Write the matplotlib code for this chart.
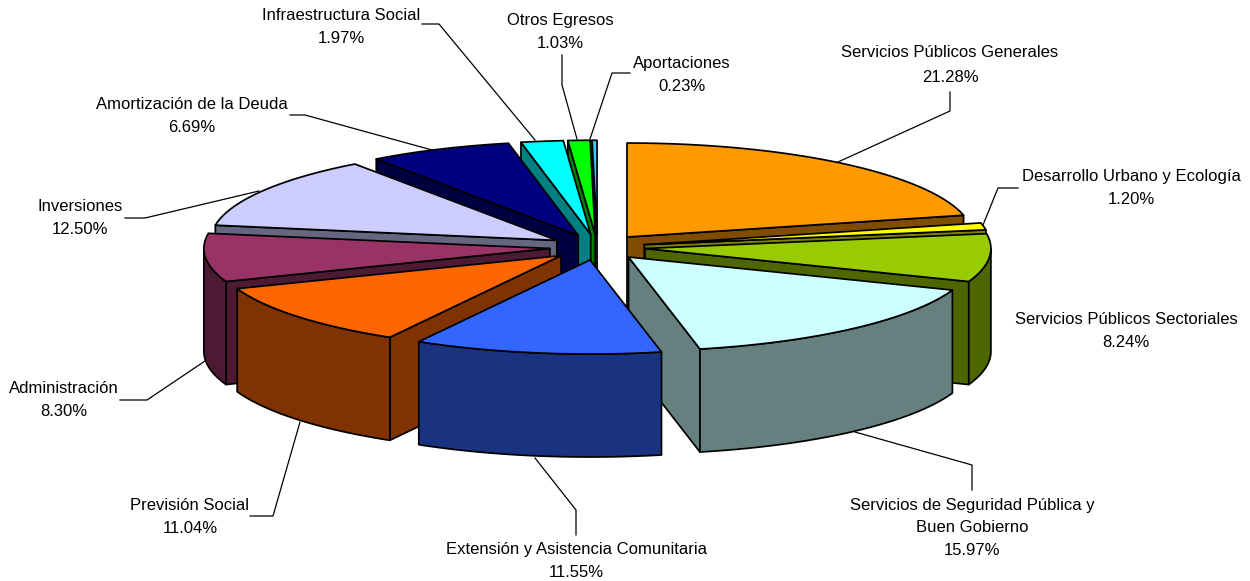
import numpy as np
import matplotlib
matplotlib.use('Agg')
import matplotlib.pyplot as plt
from matplotlib.colors import to_rgb

plt.rcParams['font.family'] = ['Liberation Sans', 'DejaVu Sans']

# clockwise from 12 o'clock
categories = ['Servicios Públicos Generales', 'Desarrollo Urbano y Ecología',
              'Servicios Públicos Sectoriales',
              'Servicios de Seguridad Pública y\nBuen Gobierno',
              'Extensión y Asistencia Comunitaria', 'Previsión Social',
              'Administración', 'Inversiones', 'Amortización de la Deuda',
              'Infraestructura Social', 'Otros Egresos', 'Aportaciones']
values = [21.28, 1.20, 8.24, 15.97, 11.55, 11.04, 8.30, 12.50, 6.69, 1.97, 1.03, 0.23]
colors = ['#FF9900', '#FFFF00', '#99CC00', '#CCFFFF', '#3366FF', '#FF6600',
          '#993366', '#CCCCFF', '#000080', '#00FFFF', '#00FF00', '#33CCFF']

# pie geometry, in pixels of the 1250x581 figure
cx, cy = 597.4, 247.2
rx, ry = 346, 94
explode = 0.138
depth = 103

# label centre and leader line for each category
label_pos = [(950, 65), (1131, 188), (1126, 331), (972, 528), (576, 561), (190, 517),
             (64, 400), (80, 218), (192, 116), (341, 27), (560, 32), (682, 75)]
leaders = [[(838, 162), (950, 111), (950, 92)],
           [(981, 230), (998, 188), (1018, 188)],
           None,
           [(855, 432), (972, 465), (972, 490)],
           [(535, 458), (576, 510), (576, 535)],
           [(300, 422), (273, 516), (250, 516)],
           [(205, 361), (147, 400), (120, 400)],
           [(259, 191), (145, 218), (125, 218)],
           [(432, 150), (305, 115), (290, 115)],
           [(535, 140), (439, 24), (422, 24)],
           [(577, 139), (562, 85), (562, 55)],
           [(590, 139), (612, 73), (630, 73)]]


def darker(c):
    return tuple(v * 0.5 for v in to_rgb(c))


def face(ax, xs, ys, color, z):
    ax.fill(xs, ys, facecolor=color, edgecolor='black', linewidth=1.25,
            joinstyle='round', zorder=z)


fig = plt.figure(figsize=(12.5, 5.81), dpi=100)
ax = fig.add_axes([0, 0, 1, 1])
ax.set_xlim(0, 1250)
ax.set_ylim(581, 0)
ax.axis('off')

edges = np.radians(np.concatenate([[0], np.cumsum(values)]) * 3.6)
mids = (edges[:-1] + edges[1:]) / 2

# back slices first, the slice nearest the viewer last
order = np.argsort(-np.cos(mids))
for rank, i in enumerate(order):
    a0, a1, mid = edges[i], edges[i + 1], mids[i]
    ox = cx + explode * rx * np.sin(mid)
    oy = cy - explode * ry * np.cos(mid)
    t = np.linspace(a0, a1, 80)
    ex = ox + rx * np.sin(t)
    ey = oy - ry * np.cos(t)
    side = darker(colors[i])
    z = 2 + rank * 5

    # cut faces, only where they look towards the viewer
    if np.sin(a0) < 0:
        sx, sy = ex[0], ey[0]
        face(ax, [ox, sx, sx, ox], [oy, sy, sy + depth, oy + depth], side, z)
    if np.sin(a1) > 0:
        sx, sy = ex[-1], ey[-1]
        face(ax, [ox, sx, sx, ox], [oy, sy, sy + depth, oy + depth], side, z + 1)

    # rim, front half of the ellipse only
    front = np.cos(t) < 0
    if front.sum() > 1:
        fx, fy = ex[front], ey[front]
        face(ax, np.r_[fx, fx[::-1]], np.r_[fy, fy[::-1] + depth], side, z + 2)

    face(ax, np.r_[ox, ex], np.r_[oy, ey], colors[i], z + 3)

for k, (name, val, pos, line) in enumerate(zip(categories, values, label_pos, leaders)):
    # the first label has a wider gap between its lines in the original
    spacing = 1.85 if k == 0 else 1.6
    ax.text(pos[0], pos[1], f'{name}\n{val:.2f}%', ha='center', va='center',
            fontsize=12, linespacing=spacing, color='black', zorder=200)
    if line:
        ax.plot(*zip(*line), color='black', linewidth=0.9, zorder=1)

fig.savefig('out.png', dpi=100)
